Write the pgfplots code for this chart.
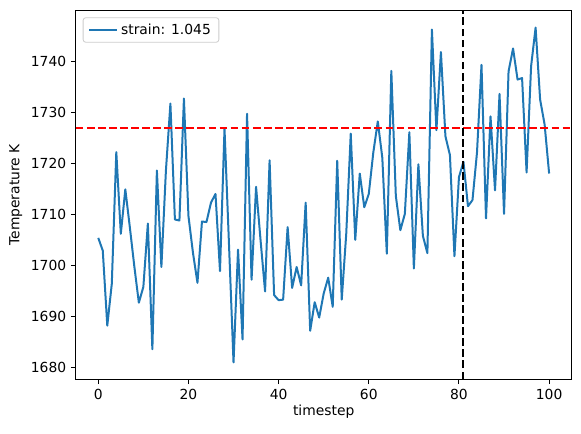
\documentclass[border=0pt]{standalone}
\usepackage{fontspec}
\setmainfont{DejaVu Sans}
\usepackage{pgfplots}
\pgfplotsset{compat=1.18}
\definecolor{tabblue}{RGB}{31,119,180}
\begin{document}
\begin{tikzpicture}[font=\fontsize{10.4}{12.5}\selectfont]
\begin{axis}[
  width=372pt, height=276.5pt, scale only axis,
  xmin=-5, xmax=105, ymin=1677.7, ymax=1749.9,
  xtick={0,20,...,100}, ytick={1680,1690,...,1740},
  tick align=outside, tick pos=left,
  major tick length=3.6pt,
  every tick/.style={black, line width=0.8pt},
  axis line style={line width=0.8pt},
  /pgf/number format/assume math mode=true,
  /pgf/number format/set thousands separator={},
  xlabel={timestep}, ylabel={Temperature K},
  every axis x label/.style={at={(axis description cs:0.5,-0.0886)}, anchor=center},
  every axis y label/.style={at={(axis description cs:-0.121,0.5)}, rotate=90, anchor=center},
  legend style={at={(axis description cs:0,1)}, xshift=5.25pt, yshift=-5pt, anchor=north west,
    draw={rgb,255:red,204;green,204;blue,204}, rounded corners=2pt, line width=0.6pt,
    inner xsep=4pt, inner ysep=2.5pt, font=\fontsize{10.4}{12.5}\selectfont},
  legend cell align=left,
  legend image code/.code={\draw[#1] (0pt,0pt) -- (21pt,0pt);},
]
\addplot[tabblue, line width=1.5pt, line join=round] coordinates {
(0,1705.4) (1,1702.9) (2,1688.2) (3,1696.4) (4,1722.2) (5,1706.2) (6,1714.9) (7,1707.5) (8,1699.8) (9,1692.7)
(10,1695.8) (11,1708.2) (12,1683.6) (13,1718.6) (14,1699.7) (15,1718.5) (16,1731.7) (17,1709.0) (18,1708.8) (19,1732.7)
(20,1709.7) (21,1702.5) (22,1696.6) (23,1708.6) (24,1708.5) (25,1712.3) (26,1714.0) (27,1698.9) (28,1726.8) (29,1704.0)
(30,1681.0) (31,1703.1) (32,1685.5) (33,1729.7) (34,1697.2) (35,1715.4) (36,1704.9) (37,1694.9) (38,1720.6) (39,1694.2)
(40,1693.2) (41,1693.3) (42,1707.5) (43,1695.6) (44,1699.7) (45,1696.1) (46,1712.3) (47,1687.2) (48,1692.8) (49,1689.8)
(50,1694.5) (51,1697.6) (52,1691.9) (53,1720.5) (54,1693.3) (55,1706.2) (56,1725.8) (57,1705.0) (58,1718.0) (59,1711.4)
(60,1714.0) (61,1722.1) (62,1728.2) (63,1721.1) (64,1702.3) (65,1738.1) (66,1713.6) (67,1706.9) (68,1710.1) (69,1726.1)
(70,1699.4) (71,1719.8) (72,1705.8) (73,1702.4) (74,1746.2) (75,1726.5) (76,1741.8) (77,1725.3) (78,1721.6) (79,1701.8)
(80,1717.3) (81,1720.3) (82,1711.6) (83,1712.8) (84,1722.1) (85,1739.3) (86,1709.2) (87,1729.2) (88,1714.7) (89,1733.6)
(90,1710.1) (91,1738.0) (92,1742.5) (93,1736.4) (94,1736.7) (95,1718.2) (96,1739.0) (97,1746.6) (98,1732.5) (99,1727.6)
(100,1718.0)
};
\addlegendentry{strain: 1.045}
\addplot[red, line width=1.5pt, dash pattern=on 5.8pt off 2.5pt, forget plot] coordinates {(-5,1726.9) (105,1726.9)};
\addplot[black, line width=1.5pt, dash pattern=on 5.8pt off 2.5pt, forget plot] coordinates {(81,1677.7) (81,1749.9)};
\end{axis}
\useasboundingbox ([xshift=-56.8pt,yshift=-40.3pt]current axis.south west) rectangle ([xshift=7pt,yshift=8pt]current axis.north east);
\end{tikzpicture}
\end{document}
